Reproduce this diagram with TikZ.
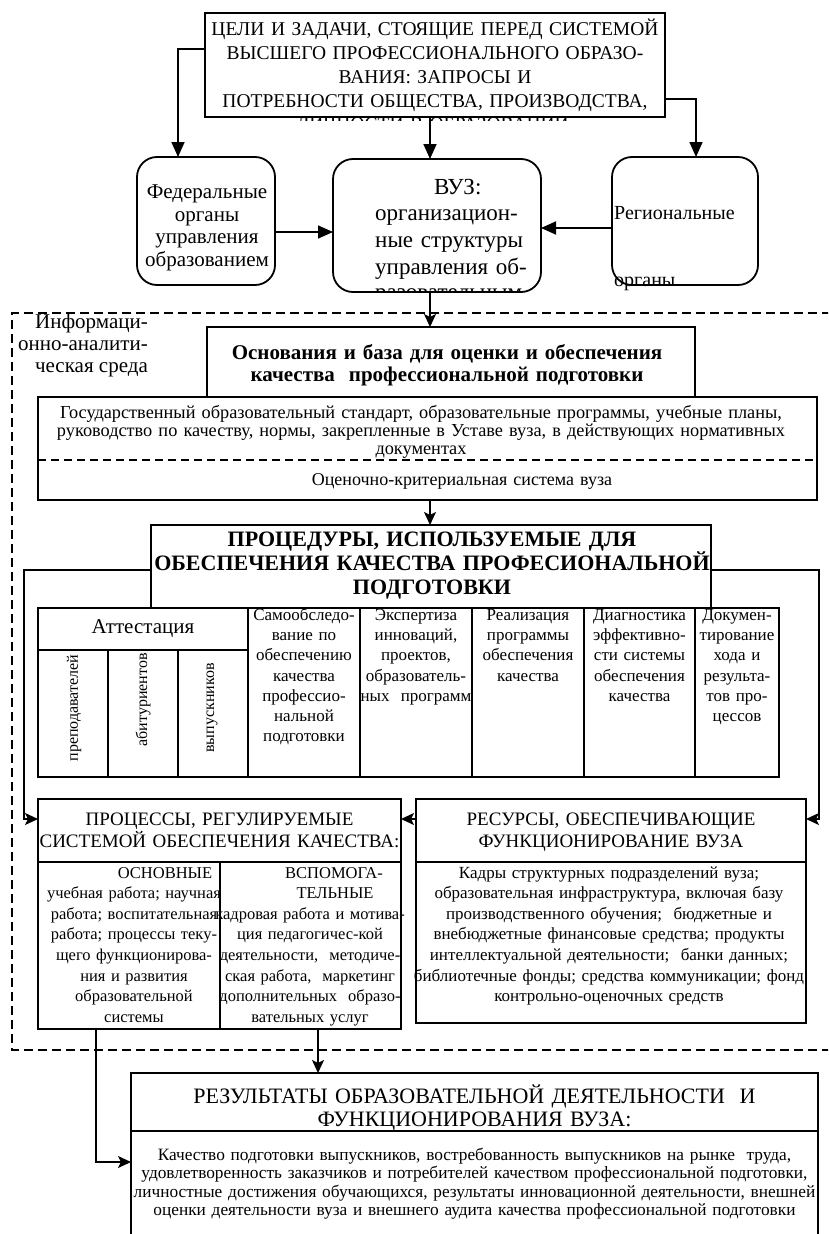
\documentclass[tikz,border=0pt]{standalone}
\usepackage{fontspec}
\setmainfont{Liberation Serif}
\usetikzlibrary{arrows.meta}
% size / exact line spacing
\newcommand\fz[2]{\fontsize{#1}{#2}\selectfont\lineskiplimit=-40pt\relax}
% fixes the height of the first line so that "north" sits 1em above its baseline
\newcommand\fr{\rule{0pt}{1em}}
\begin{document}
\begin{tikzpicture}[x=1pt,y=-1pt,
  box/.style={draw,line width=1.8pt,inner sep=0pt,outer sep=0pt},
  rbox/.style={box,rounded corners=20pt},
  tx/.style={inner sep=0pt,outer sep=0pt,anchor=north,align=center,text width=#1},
  sep/.style={line width=1.7pt},
  dsep/.style={line width=1.5pt,dash pattern=on 8pt off 5pt},
  frame/.style={line width=1.5pt,dash pattern=on 9pt off 5pt},
  arrT/.style={line width=1.7pt,-{Triangle[length=15pt,width=13pt]}},
  arrS/.style={line width=1.7pt,-{Stealth[length=13pt,width=12pt,inset=3pt]}}]
\path[use as bounding box] (0,0) rectangle (828,1234);
\clip (0,0) rectangle (828,1234);
\fill[white] (0,0) rectangle (828,1234);

% ---------- top level ----------
\node[box,minimum width=460pt,minimum height=104pt] (goals) at (435,65) {};
\node[tx=480pt,font=\fz{19.5}{24}] (goalsT) at (435,16) {\fr ЦЕЛИ И ЗАДАЧИ, СТОЯЩИЕ ПЕРЕД СИСТЕМОЙ\\ВЫСШЕГО ПРОФЕССИОНАЛЬНОГО ОБРАЗО-\\ВАНИЯ: ЗАПРОСЫ И\\ПОТРЕБНОСТИ ОБЩЕСТВА, ПРОИЗВОДСТВА,};
\begin{scope}
  \clip (205,112) rectangle (665,120.5);
  \node[tx=480pt,font=\fz{19.5}{24}] (goalsR) at (435,111) {\fr ЛИЧНОСТИ В ОБРАЗОВАНИИ, КАЧЕСТВУ ПРОЦЕССОВ};
\end{scope}

\node[rbox,minimum width=138pt,minimum height=128pt] (fed) at (206,221) {};
\node[tx=140pt,font=\fz{21}{22.7}] (fedT) at (207,177.3) {\fr Федеральные\\органы\\управления\\образованием};

\node[rbox,minimum width=208pt,minimum height=133pt] (vuz) at (437,225.5) {};
\node[inner sep=0pt,anchor=north west,align=left,text width=165pt,font=\fz{23}{26.7}] (vuzT) at (375,171) {\fr\makebox[165pt][c]{ВУЗ:}\\организацион-\\\makebox[165pt][s]{ные структуры}\\\makebox[165pt][s]{управления об-}};
\begin{scope}
  \clip (345,284) rectangle (535,291.5);
  \node[inner sep=0pt,anchor=north west,font=\fz{23}{26.7}] (vuzR) at (375,276) {\fr разовательным};
\end{scope}

\node[rbox,minimum width=146pt,minimum height=128pt] (reg) at (685,221) {};
\node[inner sep=0pt,anchor=north west,font=\fz{20}{22}] (regA) at (614,199) {\fr Региональные};
\node[inner sep=0pt,anchor=north west,font=\fz{20}{22}] (regB) at (614,266) {\fr органы};

% ---------- information-analytical environment ----------
\draw[frame] (845,313) -- (12,313) -- (12,1050) -- (845,1050);
\node[inner sep=0pt,anchor=north east,align=right,font=\fz{21}{22}] (env) at (148,307.5) {\fr Информаци-\\онно-аналити-\\ческая среда};

\node[box,minimum width=488pt,minimum height=70pt] (base) at (451,362) {};
\node[tx=480pt,font=\fz{21}{22}\bfseries] (baseT) at (447,338.3) {\fr Основания и база для оценки и обеспечения\\качества\ \ профессиональной подготовки};

\node[box,minimum width=779pt,minimum height=103pt] (norms) at (427.5,448.5) {};
\node[tx=800pt,font=\fz{18.3}{18}] (normsT) at (421,400.4) {\fr Государственный образовательный стандарт, образовательные программы, учебные планы,\\руководство по качеству, нормы, закрепленные в Уставе вуза, в действующих нормативных\\документах};
\draw[dsep] (38,460) -- (817,460);
\node[tx=500pt,font=\fz{18}{18}] (evalT) at (462,467.4) {\fr Оценочно-критериальная система вуза};

% ---------- procedures ----------
\node[box,minimum width=560pt,minimum height=83pt] (proc) at (431,566.5) {};
\node[tx=600pt,font=\fz{22}{24}\bfseries] (procT) at (432,524.6) {\fr ПРОЦЕДУРЫ, ИСПОЛЬЗУЕМЫЕ ДЛЯ\\ОБЕСПЕЧЕНИЯ КАЧЕСТВА ПРОФЕСИОНАЛЬНОЙ\\ПОДГОТОВКИ};

\node[box,minimum width=741pt,minimum height=169pt] (row) at (408.5,692.5) {};
\draw[sep] (38,650) -- (248,650);
\draw[sep] (108,650) -- (108,777);
\draw[sep] (178,650) -- (178,777);
\foreach \cx in {248,360,472,584,695} \draw[sep] (\cx,608) -- (\cx,777);
\node[inner sep=0pt,anchor=north,font=\fz{21}{22}] (att) at (143,612.3) {\fr Аттестация};
\node[inner sep=0pt,rotate=90,font=\fz{16}{16}] (attA) at (74,708) {преподавателей};
\node[inner sep=0pt,rotate=90,font=\fz{16}{16}] (attB) at (143,700) {абитуриентов};
\node[inner sep=0pt,rotate=90,font=\fz{16}{16}] (attC) at (212,708) {выпускников};
\node[tx=130pt,font=\fz{17}{20.3}] (c1) at (304,603.1) {\fr Самообследо-\\вание по\\обеспечению\\качества\\профессио-\\нальной\\подготовки};
\node[tx=130pt,font=\fz{17}{20.3}] (c2) at (416,603.1) {\fr Экспертиза\\инноваций,\\проектов,\\образователь-\\ных\ \ программ};
\node[tx=130pt,font=\fz{17}{20.3}] (c3) at (528,603.1) {\fr Реализация\\программы\\обеспечения\\качества};
\node[tx=130pt,font=\fz{17}{20.3}] (c4) at (639.5,603.1) {\fr Диагностика\\эффективно-\\сти системы\\обеспечения\\качества};
\node[tx=130pt,font=\fz{17}{20.3}] (c5) at (737,603.1) {\fr Докумен-\\тирование\\хода и\\результа-\\тов про-\\цессов};

% ---------- processes and resources ----------
\node[box,minimum width=363pt,minimum height=230pt] (procs) at (219.5,914) {};
\draw[sep] (38,862) -- (401,862);
\draw[sep] (220,862) -- (220,1029);
\node[tx=380pt,font=\fz{19}{22}] (procsT) at (219.5,806.7) {\fr ПРОЦЕССЫ, РЕГУЛИРУЕМЫЕ\\СИСТЕМОЙ ОБЕСПЕЧЕНИЯ КАЧЕСТВА:};
\node[tx=200pt,font=\fz{16.5}{20.6}] (mainT) at (134,861.5) {\fr\hspace*{62pt}ОСНОВНЫЕ\\учебная работа; научная\\работа; воспитательная\\работа; процессы теку-\\щего функционирова-\\ния и развития\\образовательной\\системы};
\node[tx=200pt,font=\fz{16.5}{20.6}] (auxT) at (310,861.5) {\fr\hspace*{48pt}ВСПОМОГА-\\\hspace*{50pt}ТЕЛЬНЫЕ\\кадровая работа и мотива-\\ция педагогичес-кой\\деятельности,\ \ методиче-\\ская работа,\ \ маркетинг\\дополнительных\ \ образо-\\вательных услуг};

\node[box,minimum width=390pt,minimum height=224pt] (res) at (611,911) {};
\draw[sep] (416,862) -- (806,862);
\node[tx=400pt,font=\fz{19}{22}] (resT) at (611,806.7) {\fr РЕСУРСЫ, ОБЕСПЕЧИВАЮЩИЕ\\ФУНКЦИОНИРОВАНИЕ ВУЗА};
\node[tx=420pt,font=\fz{17}{20.6}] (resB) at (609,861.1) {\fr Кадры структурных подразделений вуза;\\образовательная инфраструктура, включая базу\\производственного обучения;\ \ бюджетные и\\внебюджетные финансовые средства; продукты\\интеллектуальной деятельности;\ \ банки данных;\\библиотечные фонды; средства коммуникации; фонд\\контрольно-оценочных средств};

% ---------- results ----------
\node[box,minimum width=687pt,minimum height=194pt] (result) at (474.5,1170) {};
\draw[sep] (131,1131) -- (818,1131);
\node[tx=700pt,font=\fz{22}{23}] (resultT) at (474.5,1081.6) {\fr РЕЗУЛЬТАТЫ ОБРАЗОВАТЕЛЬНОЙ ДЕЯТЕЛЬНОСТИ\ \ И\\ФУНКЦИОНИРОВАНИЯ ВУЗА:};
\node[tx=720pt,font=\fz{17.3}{18.5}] (resultB) at (474.5,1143) {\fr Качество подготовки выпускников, востребованность выпускников на рынке\ \ труда,\\удовлетворенность заказчиков и потребителей качеством профессиональной подготовки,\\личностные достижения обучающихся, результаты инновационной деятельности, внешней\\оценки деятельности вуза и внешнего аудита качества профессиональной подготовки};

% ---------- connectors ----------
\coordinate (gl) at (178,49);
\coordinate (gr) at (696,99);
\coordinate (cx) at (430,0);
\coordinate (fy) at (0,232);
\coordinate (ry) at (0,228);
\draw[arrT] (goals.west |- gl) -| (fed.north -| gl);
\draw[arrT] (goals.east |- gr) -| (reg.north -| gr);
\draw[arrT] (goals.south -| cx) -- (vuz.north -| cx);
\draw[arrT] (fed.east |- fy) -- (vuz.west |- fy);
\draw[arrT] (reg.west |- ry) -- (vuz.east |- ry);
\draw[arrS] (vuz.south -| cx) -- (base.north -| cx);
\draw[arrS] (norms.south -| cx) -- (proc.north -| cx);

\coordinate (sy) at (0,570);
\coordinate (ay) at (0,819);
\coordinate (lx) at (24,0);
\coordinate (rx) at (819,0);
\draw[arrS] (proc.west |- sy) -| (lx |- ay) -- (procs.west |- ay);
\draw[arrS] (proc.east |- sy) -| (rx |- ay) -- (res.east |- ay);
\draw[arrS] (res.west |- ay) -- (procs.east |- ay);

\coordinate (bx) at (318,0);
\coordinate (lx2) at (96,0);
\coordinate (qy) at (0,1162);
\draw[arrS] (procs.south -| bx) -- (result.north -| bx);
\draw[arrS] (procs.south -| lx2) |- (result.west |- qy);
\end{tikzpicture}
\end{document}
